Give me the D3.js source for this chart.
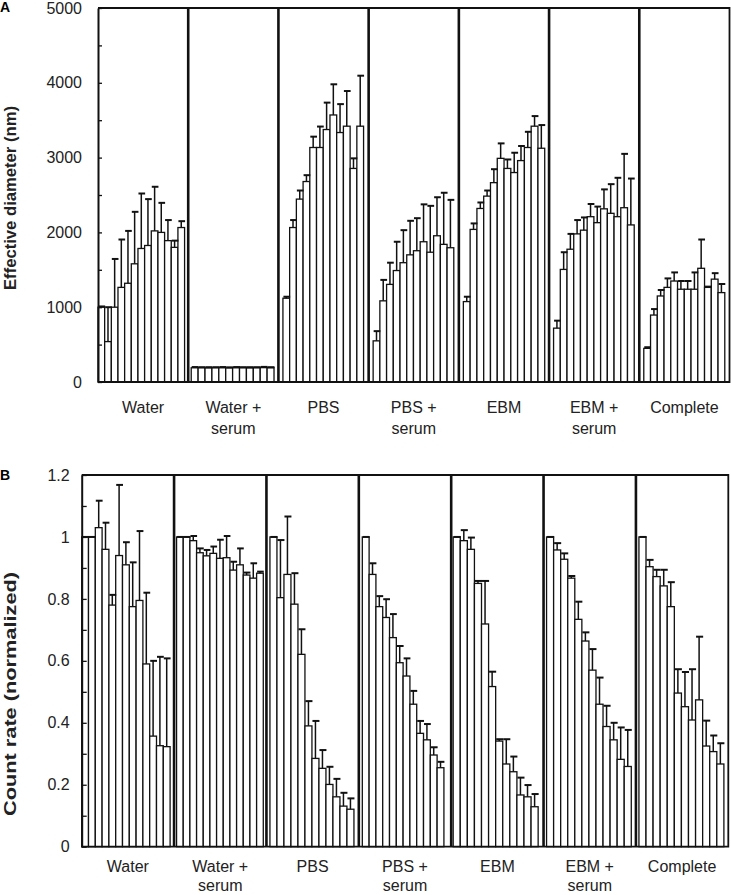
<!DOCTYPE html>
<html>
<head>
<meta charset="utf-8">
<script src="https://cdn.jsdelivr.net/npm/d3@7"></script>
<style>
  body { margin: 0; background: #fff; }
  text { font-family: 'Liberation Sans', Arial, sans-serif; }
</style>
</head>
<body>
<svg id="chart" width="731" height="895"></svg>
<script>
const groups = ['Water', 'Water + serum', 'PBS', 'PBS + serum', 'EBM', 'EBM + serum', 'Complete'];
const groupLines = [['Water'], ['Water +', 'serum'], ['PBS'], ['PBS +', 'serum'], ['EBM'], ['EBM +', 'serum'], ['Complete']];

// panel A: effective diameter (nm), mean and +SD per time point
const diameterMean = [
  [1000, 540, 1000, 1265, 1320, 1580, 1785, 1825, 2020, 2000, 1890, 1800, 2065],
  [190, 190, 188, 190, 190, 188, 190, 190, 188, 190, 192, 190],
  [1120, 2065, 2445, 2680, 3135, 3135, 3375, 3570, 3335, 3420, 2855, 3420],
  [550, 1085, 1305, 1490, 1595, 1700, 1755, 1875, 1735, 1955, 1840, 1795],
  [1075, 2040, 2320, 2485, 2665, 2990, 2855, 2800, 2960, 3135, 3420, 3125],
  [720, 1505, 1775, 1980, 2030, 2210, 2130, 2315, 2255, 2210, 2330, 2100],
  [450, 895, 1150, 1265, 1350, 1240, 1240, 1240, 1520, 1265, 1375, 1195]
];
const diameterSd = [
  [10, 460, 645, 640, 700, 695, 735, 620, 590, 395, 275, 90, 85],
  [10, 8, 10, 8, 10, 8, 10, 8, 10, 8, 10, 8],
  [20, 100, 115, 85, 145, 280, 360, 410, 380, 470, 135, 675],
  [130, 280, 290, 385, 435, 455, 435, 500, 620, 515, 690, 640],
  [65, 80, 80, 75, 180, 200, 120, 265, 195, 210, 135, 310],
  [100, 230, 205, 185, 170, 170, 215, 260, 390, 520, 720, 620],
  [15, 80, 80, 120, 115, 110, 110, 225, 385, 10, 80, 115]
];

// panel B: normalized count rate
const countMean = [
  [1.00, 1.00, 1.03, 0.96, 0.78, 0.94, 0.91, 0.775, 0.795, 0.59, 0.357, 0.326, 0.323],
  [1.00, 1.00, 0.988, 0.949, 0.939, 0.947, 0.931, 0.933, 0.893, 0.910, 0.877, 0.867, 0.883],
  [1.00, 0.804, 0.879, 0.783, 0.621, 0.390, 0.285, 0.253, 0.201, 0.161, 0.131, 0.121],
  [1.00, 0.879, 0.775, 0.740, 0.675, 0.594, 0.551, 0.460, 0.366, 0.345, 0.296, 0.255],
  [1.00, 0.988, 0.960, 0.850, 0.719, 0.517, 0.341, 0.267, 0.242, 0.167, 0.161, 0.129],
  [1.00, 0.958, 0.928, 0.867, 0.734, 0.664, 0.570, 0.460, 0.388, 0.345, 0.282, 0.259],
  [1.00, 0.904, 0.872, 0.842, 0.775, 0.496, 0.452, 0.409, 0.474, 0.325, 0.307, 0.267]
];
const countSd = [
  [0, 0, 0.087, 0.086, 0.033, 0.228, 0.073, 0.143, 0.224, 0.23, 0.243, 0.287, 0.285],
  [0, 0, 0.015, 0.014, 0.019, 0.022, 0.06, 0.07, 0.027, 0.053, 0.008, 0.048, 0.005],
  [0, 0.186, 0.187, 0.10, 0.081, 0.08, 0.121, 0.059, 0.057, 0.058, 0.043, 0.035],
  [0, 0.036, 0.034, 0.059, 0.076, 0.054, 0.057, 0.043, 0.04, 0.051, 0.025, 0.019],
  [0, 0.034, 0.038, 0.008, 0.139, 0.048, 0.006, 0.08, 0.049, 0.056, 0.038, 0.041],
  [0, 0.022, 0.019, 0.007, 0.057, 0.028, 0.068, 0.086, 0.067, 0.055, 0.103, 0.118],
  [0, 0.022, 0.022, 0.052, 0.079, 0.077, 0.112, 0.164, 0.204, 0.082, 0.052, 0.067]
];

const diameterTicks = d3.range(0, 5001, 500);
const countTicks = d3.range(0, 13).map(i => i / 10);

const svg = d3.select('#chart');

function drawPanel(cfg) {
  const g = svg.append('g');

  const y = d3.scaleLinear()
    .domain(cfg.domain)
    .range([cfg.bottom, cfg.top]);

  const gx = d3.scaleBand()
    .domain(d3.range(groups.length))
    .range([cfg.left, cfg.right]);

  // bars + error bars for each group
  cfg.mean.forEach((vals, gi) => {
    const start = gx(gi) + cfg.lead[gi];
    const bx = d3.scaleBand()
      .domain(d3.range(vals.length))
      .range([start, start + vals.length * cfg.barW[gi]]);
    const bw = bx.bandwidth();
    const rows = vals.map((v, i) => ({ v, sd: cfg.sd[gi][i], i }));

    const gg = g.append('g');
    gg.selectAll('rect')
      .data(rows)
      .enter().append('rect')
      .attr('x', d => bx(d.i))
      .attr('y', d => y(d.v))
      .attr('width', bw)
      .attr('height', d => cfg.bottom - y(d.v))
      .attr('fill', '#fff')
      .attr('stroke', '#111')
      .attr('stroke-width', 1.3);

    gg.selectAll('line.err')
      .data(rows)
      .enter().append('line')
      .attr('class', 'err')
      .attr('x1', d => bx(d.i) + bw / 2)
      .attr('x2', d => bx(d.i) + bw / 2)
      .attr('y1', d => y(d.v))
      .attr('y2', d => y(d.v + d.sd))
      .attr('stroke', '#111')
      .attr('stroke-width', 1.5);

    gg.selectAll('line.cap')
      .data(rows)
      .enter().append('line')
      .attr('class', 'cap')
      .attr('x1', d => bx(d.i) + 0.5)
      .attr('x2', d => bx(d.i) + bw + 0.5)
      .attr('y1', d => y(d.v + d.sd))
      .attr('y2', d => y(d.v + d.sd))
      .attr('stroke', '#111')
      .attr('stroke-width', 2);
  });

  // group separators
  g.selectAll('line.sep')
    .data(d3.range(1, groups.length))
    .enter().append('line')
    .attr('class', 'sep')
    .attr('x1', d => gx(d))
    .attr('x2', d => gx(d))
    .attr('y1', cfg.top)
    .attr('y2', cfg.bottom)
    .attr('stroke', '#111')
    .attr('stroke-width', 2.6);

  // frame: top, right, bottom
  g.append('path')
    .attr('d', `M${cfg.left},${cfg.top}H${cfg.right}V${cfg.bottom}H${cfg.left}`)
    .attr('fill', 'none')
    .attr('stroke', '#111')
    .attr('stroke-width', 1.8);

  // y axis
  const ax = g.append('g')
    .attr('transform', `translate(${cfg.left},0)`)
    .call(d3.axisLeft(y)
      .tickValues(cfg.ticks)
      .tickSizeInner(-cfg.tickLen)
      .tickSizeOuter(0)
      .tickPadding(cfg.pad)
      .tickFormat(cfg.fmt));
  ax.attr('font-family', null).attr('font-size', null);
  ax.select('.domain').attr('stroke', '#111').attr('stroke-width', 2);
  ax.selectAll('.tick line').attr('stroke', '#111').attr('stroke-width', 1.3);
  ax.selectAll('.tick text')
    .attr('fill', '#222')
    .style('font-size', '16px');

  // y title
  const t = g.append('text')
    .attr('transform', `translate(${cfg.titleX},${cfg.titleY}) rotate(-90)`)
    .attr('text-anchor', 'middle')
    .style('font-size', '16px')
    .style('font-weight', 'bold')
    .attr('fill', '#222')
    .text(cfg.title);
  if (cfg.titleLen) {
    t.attr('textLength', cfg.titleLen).attr('lengthAdjust', 'spacingAndGlyphs');
  }

  // panel letter
  g.append('text')
    .attr('x', 0)
    .attr('y', cfg.letterY)
    .style('font-size', '14px')
    .style('font-weight', 'bold')
    .text(cfg.letter);

  // category labels
  const lab = g.selectAll('text.cat')
    .data(groupLines)
    .enter().append('text')
    .attr('class', 'cat')
    .attr('text-anchor', 'middle')
    .attr('fill', '#222')
    .style('font-size', '16px');
  lab.selectAll('tspan')
    .data((d, i) => d.map(s => ({ s, i })))
    .enter().append('tspan')
    .attr('x', d => gx(d.i) + gx.bandwidth() / 2)
    .attr('y', (d, j) => cfg.labelY + j * cfg.lineGap)
    .text(d => d.s);
}

drawPanel({
  mean: diameterMean, sd: diameterSd,
  domain: [0, 5000], ticks: diameterTicks,
  fmt: d => (d % 1000 === 0 ? d : ''),
  left: 98, right: 729.5, top: 8, bottom: 382,
  lead: [0, 3, 4.5, 4.5, 4.5, 4.5, 4.5],
  barW: [6.66, 6.9, 6.72, 6.72, 6.78, 6.72, 6.75],
  tickLen: 4, pad: 16,
  title: 'Effective diameter (nm)', titleX: 16, titleY: 198, titleLen: 184,
  letter: 'A', letterY: 12,
  labelY: 413, lineGap: 21
});

drawPanel({
  mean: countMean, sd: countSd,
  domain: [0, 1.2], ticks: countTicks,
  fmt: d => (Math.round(d * 10) % 2 === 0 ? d3.format('~g')(d) : ''),
  left: 81.7, right: 728.3, top: 475, bottom: 846.7,
  lead: [0, 2.5, 3.5, 3.5, 2, 3, 3],
  barW: [6.8, 6.67, 7.0, 6.8, 7.08, 7.06, 7.08],
  tickLen: 5, pad: 12,
  title: 'Count rate (normalized)', titleX: 16, titleY: 694, titleLen: 244,
  letter: 'B', letterY: 480,
  labelY: 872, lineGap: 19
});
</script>
</body>
</html>
